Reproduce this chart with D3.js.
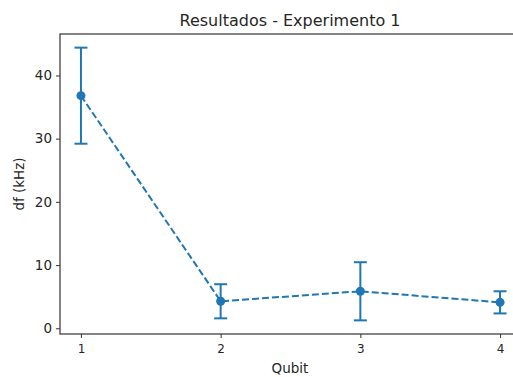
<!DOCTYPE html>
<html>
<head>
<meta charset="utf-8">
<script src="https://cdn.jsdelivr.net/npm/d3@7"></script>
<style>
  body { margin: 0; background: #fff; }
  text { font-family: "DejaVu Sans", sans-serif; fill: #262626; }
</style>
</head>
<body>
<script>
// data
var qubits = [1, 2, 3, 4];
var dfValues = [36.8, 4.27, 5.85, 4.1];
var dfErrors = [7.6, 2.7, 4.6, 1.75];

var width = 513, height = 377;
var margin = {left: 60, top: 34, right: -8, bottom: 43};

var svg = d3.select("body").append("svg")
    .attr("width", width)
    .attr("height", height);

var x = d3.scaleLinear()
    .domain([0.85, 4.15])
    .range([margin.left, width - margin.right]);

var lo = d3.min(dfValues, function(d, i) { return d - dfErrors[i]; });
var hi = d3.max(dfValues, function(d, i) { return d + dfErrors[i]; });
var pad = (hi - lo) * 0.05;
var y = d3.scaleLinear()
    .domain([lo - pad, hi + pad])
    .range([height - margin.bottom, margin.top]);

var color = "#1f77b4";

// axes
var xAxis = svg.append("g")
    .attr("transform", "translate(0," + (height - margin.bottom) + ")")
    .call(d3.axisBottom(x).tickValues(qubits).tickFormat(d3.format("d")).tickSize(4).tickPadding(6));
xAxis.selectAll("text").style("font-size", "12px");

var yAxis = svg.append("g")
    .attr("transform", "translate(" + margin.left + ",0)")
    .call(d3.axisLeft(y).ticks(5).tickSize(4).tickPadding(4));
yAxis.selectAll("text").style("font-size", "13.5px");

svg.selectAll(".domain").remove();
svg.selectAll(".tick line").attr("stroke", "#444").attr("stroke-width", 1.1);

// frame
svg.append("rect")
    .attr("x", margin.left)
    .attr("y", margin.top)
    .attr("width", x.range()[1] - margin.left)
    .attr("height", y.range()[0] - margin.top)
    .attr("fill", "none")
    .attr("stroke", "#333")
    .attr("stroke-width", 1.2);

// dashed line
var line = d3.line()
    .x(function(d, i) { return x(qubits[i]); })
    .y(function(d) { return y(d); });

svg.append("path")
    .datum(dfValues)
    .attr("d", line)
    .attr("fill", "none")
    .attr("stroke", color)
    .attr("stroke-width", 2)
    .attr("stroke-dasharray", "7,3");

// error bars
var bars = svg.selectAll(".err")
    .data(dfValues)
    .enter().append("g")
    .attr("class", "err");

bars.append("line")
    .attr("x1", function(d, i) { return x(qubits[i]); })
    .attr("x2", function(d, i) { return x(qubits[i]); })
    .attr("y1", function(d, i) { return y(d - dfErrors[i]); })
    .attr("y2", function(d, i) { return y(d + dfErrors[i]); })
    .attr("stroke", color)
    .attr("stroke-width", 2);

[-1, 1].forEach(function(s) {
  bars.append("line")
      .attr("x1", function(d, i) { return x(qubits[i]) - 6.5; })
      .attr("x2", function(d, i) { return x(qubits[i]) + 6.5; })
      .attr("y1", function(d, i) { return y(d + s * dfErrors[i]); })
      .attr("y2", function(d, i) { return y(d + s * dfErrors[i]); })
      .attr("stroke", color)
      .attr("stroke-width", 2);
});

// markers
svg.selectAll(".pt")
    .data(dfValues)
    .enter().append("circle")
    .attr("cx", function(d, i) { return x(qubits[i]); })
    .attr("cy", function(d) { return y(d); })
    .attr("r", 4.5)
    .attr("fill", color);

// titles
svg.append("text")
    .attr("x", 290)
    .attr("y", 26)
    .attr("text-anchor", "middle")
    .style("font-size", "16px")
    .text("Resultados - Experimento 1");

svg.append("text")
    .attr("x", 290)
    .attr("y", 373)
    .attr("text-anchor", "middle")
    .style("font-size", "13.5px")
    .text("Qubit");

svg.append("text")
    .attr("transform", "translate(24," + ((margin.top + y.range()[0]) / 2) + ") rotate(-90)")
    .attr("text-anchor", "middle")
    .style("font-size", "13.5px")
    .text("df (kHz)");
</script>
</body>
</html>
